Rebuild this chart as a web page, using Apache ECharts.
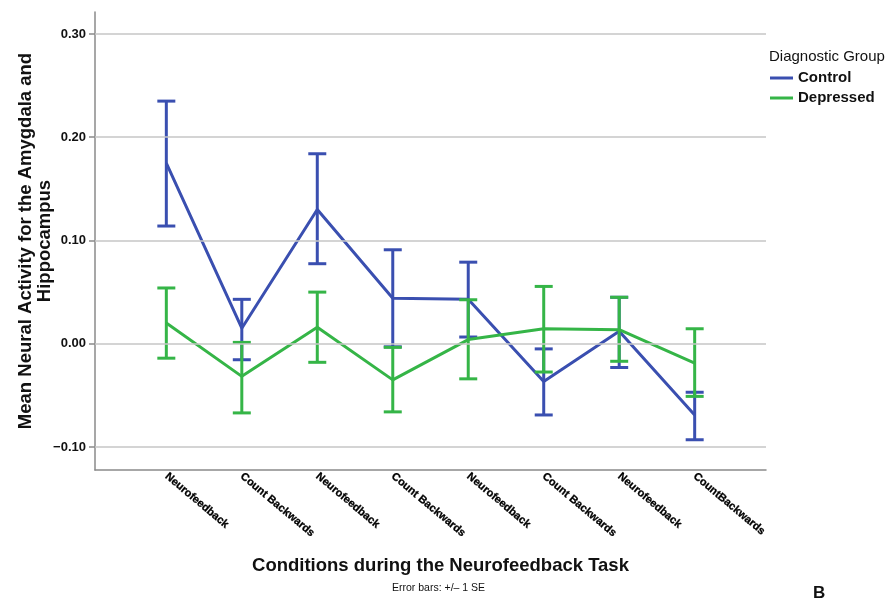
<!DOCTYPE html>
<html>
<head>
<meta charset="utf-8">
<script src="https://cdn.jsdelivr.net/npm/echarts@6/dist/echarts.min.js"></script>
<style>html,body{margin:0;padding:0;background:#fff;}#chart{width:891px;height:599px;}</style>
</head>
<body>
<div id="chart"></div>
<script>
const categories = ['Neurofeedback','Count Backwards','Neurofeedback','Count Backwards','Neurofeedback','Count Backwards','Neurofeedback','CountBackwards'];
const controlMean  = [0.175, 0.015, 0.130, 0.044, 0.043, -0.0365, 0.012, -0.069];
const controlUpper = [0.235, 0.043, 0.184, 0.091, 0.079, -0.005, 0.045, -0.047];
const controlLower = [0.114, -0.0155, 0.0775, -0.003, 0.0065, -0.069, -0.023, -0.093];
const depressedMean  = [0.020, -0.0316, 0.016, -0.035, 0.004, 0.0145, 0.0136, -0.0187];
const depressedUpper = [0.054, 0.0013, 0.050, -0.0035, 0.0426, 0.0555, 0.045, 0.0145];
const depressedLower = [-0.014, -0.067, -0.018, -0.066, -0.034, -0.0274, -0.017, -0.051];
const yTicks = [-0.1, 0, 0.1, 0.2, 0.3];
const seriesNames = ['Control', 'Depressed'];

const BLUE = '#3A4FB0', GREEN = '#35B547';
const FONT = "'Liberation Sans', Arial, sans-serif";
const xIdx = categories.map((c, i) => i);

function pairs(arr) { return arr.map((v, i) => [i, v]); }
function errData(lo, hi) { return lo.map((v, i) => [i, v, hi[i]]); }
function errRender(color) {
  return function (params, api) {
    const lo = api.coord([api.value(0), api.value(1)]);
    const hi = api.coord([api.value(0), api.value(2)]);
    const w = 9;
    const st = { stroke: color, lineWidth: 3 };
    return { type: 'group', children: [
      { type: 'line', shape: { x1: lo[0], y1: lo[1], x2: hi[0], y2: hi[1] }, style: st },
      { type: 'line', shape: { x1: lo[0] - w, y1: lo[1], x2: lo[0] + w, y2: lo[1] }, style: st },
      { type: 'line', shape: { x1: hi[0] - w, y1: hi[1], x2: hi[0] + w, y2: hi[1] }, style: st }
    ]};
  };
}

const chart = echarts.init(document.getElementById('chart'), null, { renderer: 'canvas' });
chart.setOption({
  animation: false,
  backgroundColor: '#fff',
  textStyle: { fontFamily: FONT },
  title: {
    text: 'Diagnostic Group', left: 764, top: 44,
    textStyle: { fontFamily: FONT, fontSize: 15, fontWeight: 'normal', color: '#111' }
  },
  legend: {
    data: seriesNames, orient: 'vertical', left: 765, top: 65,
    icon: 'rect', itemWidth: 23, itemHeight: 3, itemGap: 4,
    textStyle: { fontFamily: FONT, fontSize: 15, fontWeight: 'bold', color: '#111', lineHeight: 16 }
  },
  grid: { left: 95, right: 125, top: 12, bottom: 129, outerBoundsMode: 'none' },
  xAxis: {
    type: 'value', min: -0.945, max: 7.945,
    name: 'Conditions during the Neurofeedback Task', nameLocation: 'middle', nameGap: 86,
    nameMoveOverlap: false,
    nameTextStyle: { fontFamily: FONT, fontSize: 18.5, fontWeight: 'bold', color: '#111', padding: [0, 0, 0, 20] },
    axisLine: { show: true, onZero: false, lineStyle: { color: '#8a8a8a', width: 1.5 } },
    axisTick: { show: false },
    splitLine: { show: false },
    axisLabel: {
      customValues: xIdx, rotate: -40, margin: 5,
      fontFamily: FONT, fontSize: 11, fontWeight: 900, color: '#000',
      textBorderColor: '#000', textBorderWidth: 0.3,
      formatter: v => categories[Math.round(v)]
    }
  },
  yAxis: {
    type: 'value', min: -0.1223, max: 0.3213,
    name: 'Mean Neural Activity for the Amygdala and\nHippocampus', nameLocation: 'middle', nameGap: 41,
    nameMoveOverlap: false,
    nameTextStyle: { fontFamily: FONT, fontSize: 18.5, fontWeight: 'bold', color: '#111', lineHeight: 19 },
    axisLine: { show: true, onZero: false, lineStyle: { color: '#8a8a8a', width: 1.5 } },
    axisTick: { show: true, customValues: yTicks, length: 6, lineStyle: { color: '#8a8a8a', width: 1.5 } },
    splitLine: { show: false },
    axisLabel: {
      customValues: yTicks, margin: 9,
      fontFamily: FONT, fontSize: 13, fontWeight: 'bold', color: '#111',
      formatter: v => (v < 0 ? '\u2212' : '') + Math.abs(v).toFixed(2)
    }
  },
  graphic: [
    { type: 'text', left: 392, top: 583, style: { text: 'Error bars: +/\u2013 1 SE', font: "10.5px " + FONT, fill: '#111' } },
    { type: 'text', left: 813, top: 585, style: { text: 'B', font: "bold 17px " + FONT, fill: '#111' } }
  ],
  series: [
    {
      name: 'grid', type: 'line', data: [], z: 0, silent: true,
      markLine: {
        silent: true, symbol: 'none', label: { show: false },
        lineStyle: { color: '#c6c6c6', width: 1.5, type: 'solid' },
        data: yTicks.map(v => ({ yAxis: v }))
      }
    },
    {
      name: seriesNames[0], type: 'line', data: pairs(controlMean), z: 3,
      showSymbol: false, symbol: 'none', color: BLUE,
      lineStyle: { color: BLUE, width: 3 }
    },
    {
      name: seriesNames[0] + ' SE', type: 'custom', data: errData(controlLower, controlUpper), z: 3,
      renderItem: errRender(BLUE), encode: { x: 0, y: [1, 2] }
    },
    {
      name: seriesNames[1], type: 'line', data: pairs(depressedMean), z: 4,
      showSymbol: false, symbol: 'none', color: GREEN,
      lineStyle: { color: GREEN, width: 3 }
    },
    {
      name: seriesNames[1] + ' SE', type: 'custom', data: errData(depressedLower, depressedUpper), z: 4,
      renderItem: errRender(GREEN), encode: { x: 0, y: [1, 2] }
    }
  ]
});
</script>
</body>
</html>
